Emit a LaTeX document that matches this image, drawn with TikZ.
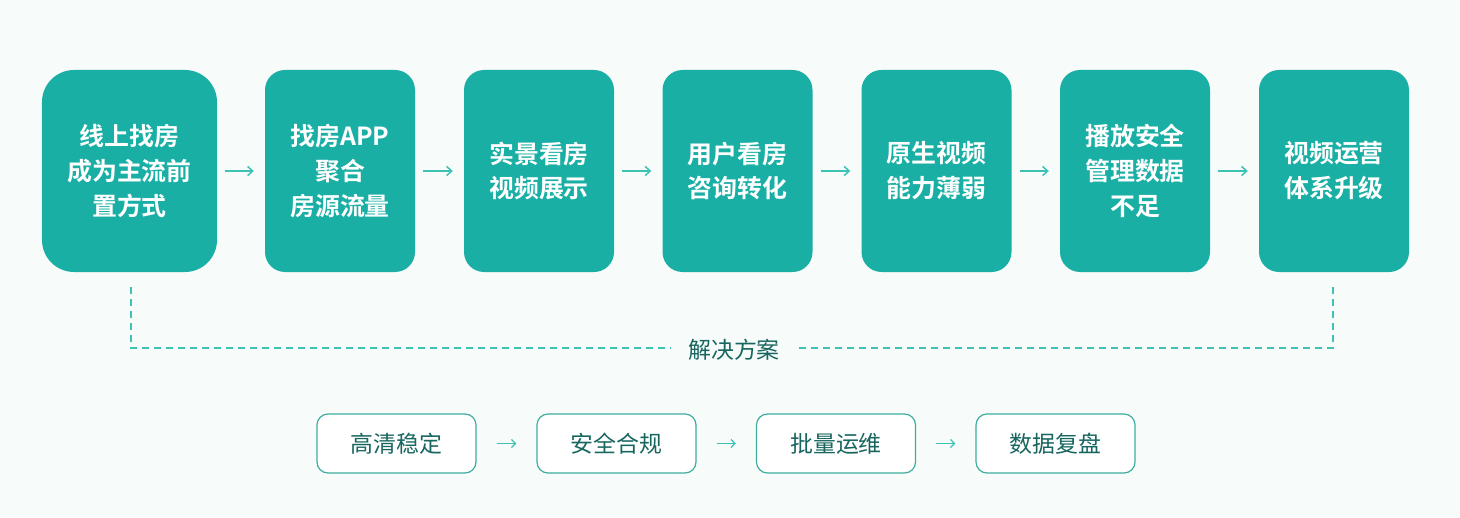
\documentclass[tikz,border=0pt]{standalone}
\usepackage{fontspec}
\setmainfont{Noto Sans CJK SC}
\newfontfamily\cjkb{Noto Sans CJK SC Bold}
\usetikzlibrary{arrows.meta,backgrounds}
\definecolor{teal1}{HTML}{1AAFA5}
\definecolor{glowc}{HTML}{4CCFC2}
\definecolor{tealline}{HTML}{3FC2B6}
\definecolor{tealtxt}{HTML}{17665F}
\definecolor{bgc}{HTML}{F7FBFA}
\definecolor{outl}{HTML}{3DAE9F}
\tikzset{
  topbox/.style={fill=teal1, draw=none, rounded corners=20bp, minimum height=202bp, minimum width=150bp,
     text=white, align=center, font=\cjkb\fontsize{25}{35}\selectfont},
  botbox/.style={fill=white, draw=outl, line width=1.2bp, rounded corners=11bp, minimum height=59bp, minimum width=159bp,
     text=tealtxt, font=\fontsize{23}{26}\selectfont},
  flow/.style={-{Straight Barb[length=5bp,width=9bp]}, draw=tealline, line width=1.5bp},
  flowsm/.style={-{Straight Barb[length=4bp,width=8bp]}, draw=tealline, line width=1.3bp},
  dashl/.style={draw=tealline, dash pattern=on 7bp off 5bp, line width=1.2bp},
  glow/.style={fill=glowc, fill opacity=0.05, draw=none}
}
\begin{document}
\begin{tikzpicture}[x=1bp,y=-1bp]
\useasboundingbox[fill=bgc] (0,0) rectangle (1460,518);
\node[topbox, minimum width=175bp, rounded corners=32bp] (b1) at (129.5,171) {线上找房\\成为主流前\\置方式};
\node[topbox] (b2) at (340,171) {找房APP\\聚合\\房源流量};
\node[topbox] (b3) at (539,171) {实景看房\\视频展示};
\node[topbox] (b4) at (737.5,171) {用户看房\\咨询转化};
\node[topbox] (b5) at (936.5,171) {原生视频\\能力薄弱};
\node[topbox] (b6) at (1135,171) {播放安全\\管理数据\\不足};
\node[topbox] (b7) at (1334,171) {视频运营\\体系升级};
\begin{scope}[on background layer]
\foreach \b in {b1,b2,b3,b4,b5,b6,b7}
  \foreach \e in {2,5,8,11,14,17,20}
    \fill[glow, rounded corners=26bp] ([xshift=-\e bp, yshift=-\e bp-6bp]\b.south west) rectangle ([xshift=\e bp, yshift=\e bp-10bp]\b.north east);
\end{scope}
\foreach \a/\b in {b1/b2,b2/b3,b3/b4,b4/b5,b5/b6,b6/b7}
  \draw[flow] ([xshift=8bp]\a.east) -- ([xshift=-11bp]\b.west);
\node[text=tealtxt, font=\fontsize{23}{26}\selectfont] (sol) at (734,350) {解决方案};
\coordinate (dl) at (131,348);
\coordinate (dr) at (1333,348);
\draw[dashl] ([yshift=-15bp]b1.south -| dl) -- (dl) -- ([xshift=-14bp]sol.west |- dl);
\draw[dashl] ([yshift=-15bp]b7.south -| dr) -- (dr) -- ([xshift=14bp]sol.east |- dr);
\node[botbox] (c1) at (396.5,443.5) {高清稳定};
\node[botbox] (c2) at (616.5,443.5) {安全合规};
\node[botbox] (c3) at (836,443.5) {批量运维};
\node[botbox] (c4) at (1055.5,443.5) {数据复盘};
\foreach \a/\b in {c1/c2,c2/c3,c3/c4}
  \draw[flowsm] ([xshift=20bp]\a.east) -- ([xshift=-20bp]\b.west);
\end{tikzpicture}
\end{document}
